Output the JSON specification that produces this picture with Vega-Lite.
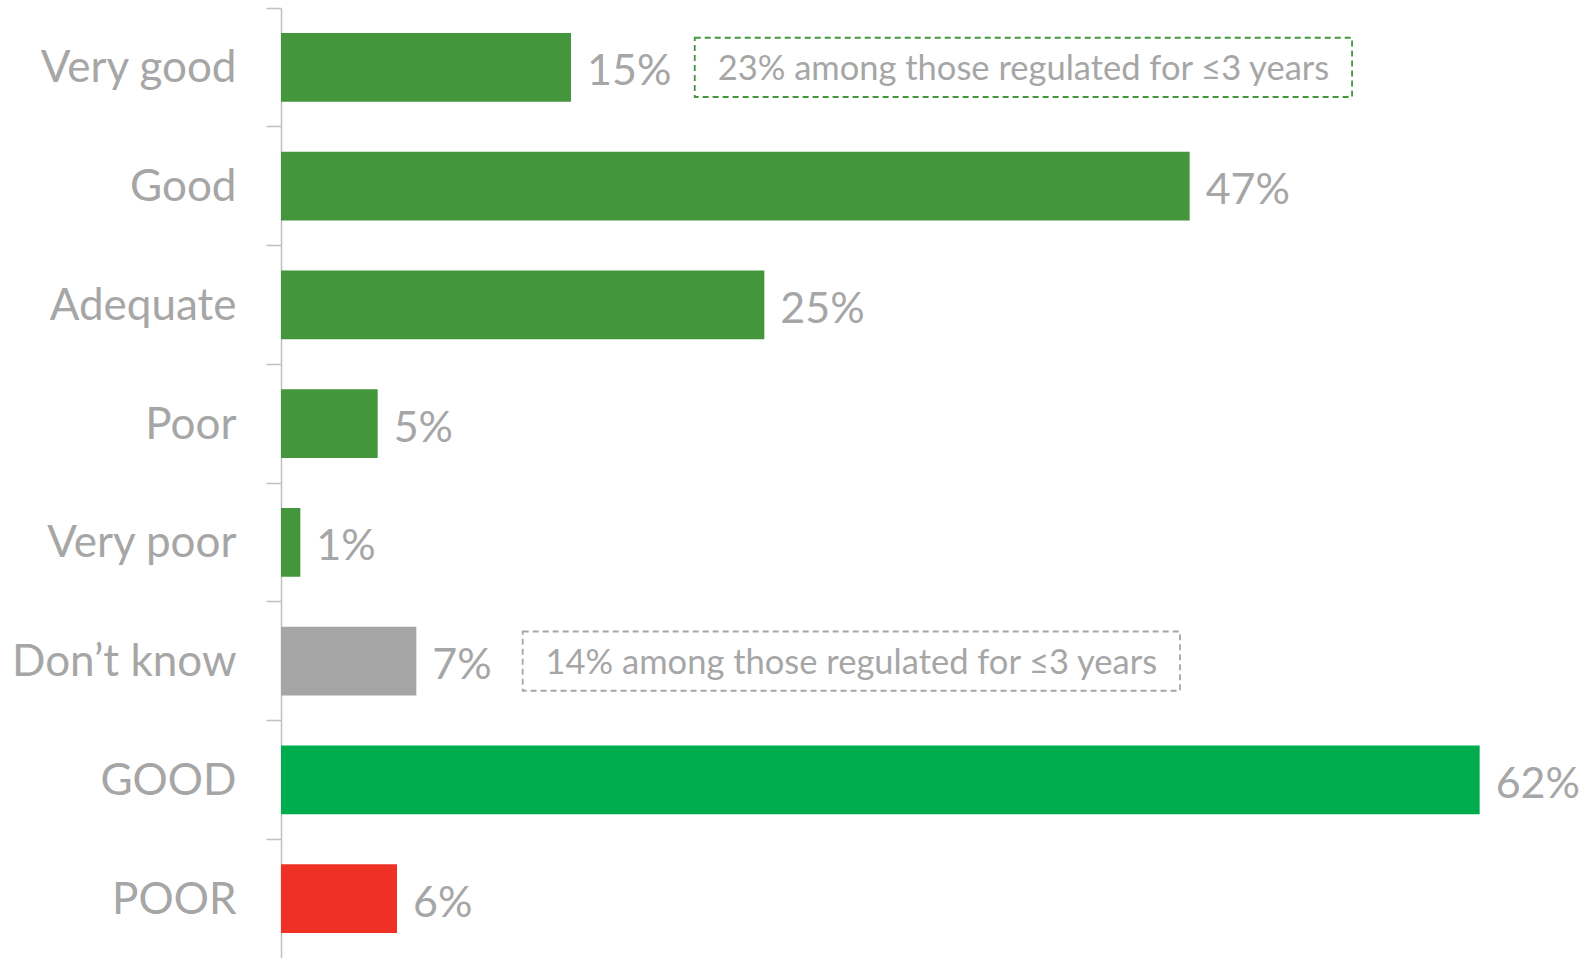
{
  "$schema": "https://vega.github.io/schema/vega-lite/v6.json",
  "width": 1305,
  "height": 950,
  "autosize": {"type": "none"},
  "padding": {"left": 281, "top": 8, "right": 0, "bottom": 0},
  "background": "white",
  "config": {"view": {"stroke": null}, "font": "Lato"},
  "datasets": {
    "bars": [
      {"category": "Very good", "value": 0.15, "group": "scale"},
      {"category": "Good", "value": 0.47, "group": "scale"},
      {"category": "Adequate", "value": 0.25, "group": "scale"},
      {"category": "Poor", "value": 0.05, "group": "scale"},
      {"category": "Very poor", "value": 0.01, "group": "scale"},
      {"category": "Don’t know", "value": 0.07, "group": "dk"},
      {"category": "GOOD", "value": 0.62, "group": "good"},
      {"category": "POOR", "value": 0.06, "group": "poor"}
    ],
    "notes": [
      {"category": "Very good", "start": 0.214, "end": 0.554, "mid": 0.384, "note": "23% among those regulated for ≤3 years", "group": "scale"},
      {"category": "Don’t know", "start": 0.125, "end": 0.465, "mid": 0.295, "note": "14% among those regulated for ≤3 years", "group": "dk"}
    ]
  },
  "encoding": {
    "y": {
      "field": "category",
      "type": "nominal",
      "sort": ["Very good", "Good", "Adequate", "Poor", "Very poor", "Don’t know", "GOOD", "POOR"],
      "scale": {"domain": ["Very good", "Good", "Adequate", "Poor", "Very poor", "Don’t know", "GOOD", "POOR"], "paddingInner": 0.42, "paddingOuter": 0.21},
      "axis": {
        "title": null,
        "bandPosition": -0.362,
        "domainColor": "#bfbfbf",
        "domainWidth": 1.5,
        "tickColor": "#bfbfbf",
        "tickWidth": 1.5,
        "tickSize": 15,
        "labelPadding": 30,
        "labelLimit": 0,
        "labelFont": "Lato",
        "labelFontSize": 44,
        "labelColor": "#a6a6a6",
        "labelBaseline": "middle",
        "labelOffset": 2
      }
    }
  },
  "layer": [
    {
      "data": {"name": "bars"},
      "mark": {"type": "bar"},
      "encoding": {
        "x": {"field": "value", "type": "quantitative", "scale": {"domain": [0, 0.675], "nice": false}, "axis": null},
        "color": {
          "field": "group",
          "type": "nominal",
          "scale": {"domain": ["scale", "dk", "good", "poor"], "range": ["#43963c", "#a5a5a5", "#00ad4e", "#ee3124"]},
          "legend": null
        }
      }
    },
    {
      "data": {"name": "bars"},
      "mark": {"type": "text", "align": "left", "baseline": "middle", "dx": 16, "dy": 5, "font": "Lato", "fontSize": 43, "color": "#a6a6a6"},
      "encoding": {
        "x": {"field": "value", "type": "quantitative"},
        "text": {"field": "value", "type": "quantitative", "format": ".0%"}
      }
    },
    {
      "data": {"name": "notes"},
      "mark": {"type": "bar", "fillOpacity": 0, "strokeWidth": 1.8, "strokeDash": [6, 4], "height": {"band": 0.86}},
      "encoding": {
        "x": {"field": "start", "type": "quantitative"},
        "x2": {"field": "end"},
        "stroke": {
          "field": "group",
          "type": "nominal",
          "scale": {"domain": ["scale", "dk"], "range": ["#43963c", "#a5a5a5"]},
          "legend": null
        }
      }
    },
    {
      "data": {"name": "notes"},
      "mark": {"type": "text", "align": "center", "baseline": "middle", "dy": 3, "font": "Lato", "fontSize": 34.5, "color": "#a6a6a6"},
      "encoding": {
        "x": {"field": "mid", "type": "quantitative"},
        "text": {"field": "note"}
      }
    }
  ]
}
